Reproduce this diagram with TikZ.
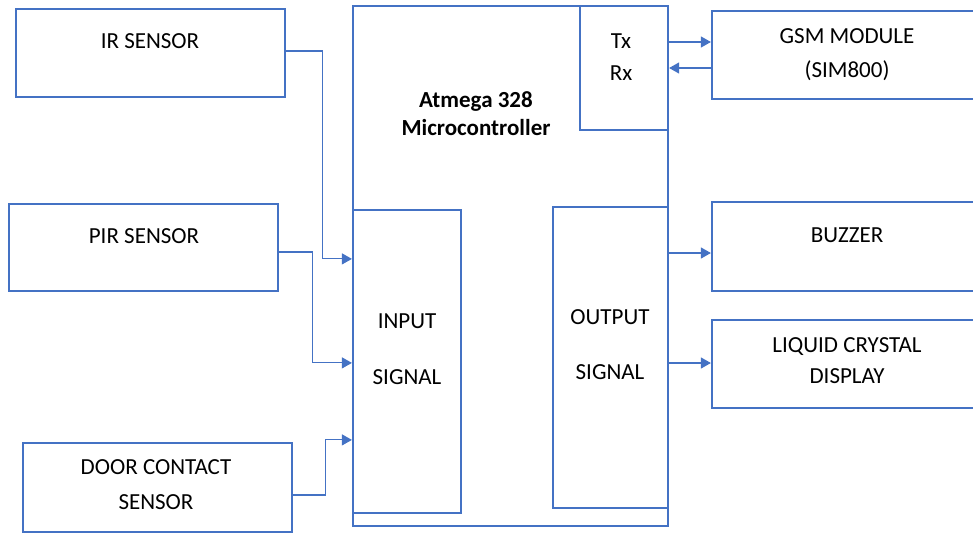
\documentclass[tikz,border=0pt]{standalone}
\usepackage{fontspec}
\setmainfont{Carlito}
\usetikzlibrary{arrows.meta}
\definecolor{boxblue}{RGB}{68,114,196}
\begin{document}
\begin{tikzpicture}[x=1pt, y=-1pt, >={Triangle[length=10pt,width=11pt]},
    box/.style={draw=boxblue, line width=2.2pt, inner sep=0pt, fill=none},
    lbl/.style={font=\fontsize{23}{33}\selectfont, align=center, inner sep=0pt},
    link/.style={->, draw=boxblue, line width=1.1pt}]
    \useasboundingbox (0,0) rectangle (973,533);
    \clip (0,0) rectangle (973,533);
    % sensors
    \node[box, minimum width=269pt, minimum height=88pt] (ir) at (150.5,53) {};
    \node[box, minimum width=269pt, minimum height=87pt] (pir) at (143.5,247.5) {};
    \node[box, minimum width=269pt, minimum height=89pt] (door) at (157.5,487.5) {};
    \node[lbl] (irtxt) at (150,41.5) {IR SENSOR};
    \node[lbl] (pirtxt) at (144,236) {PIR SENSOR};
    \node[lbl] (doortxt) at (156,485) {DOOR CONTACT\\[2pt]SENSOR};
    % controller
    \node[box, minimum width=315pt, minimum height=520pt] (mcu) at (510.5,266) {};
    \node[box, minimum width=88pt, minimum height=124pt] (txrx) at (624,68) {};
    \node[box, minimum width=108pt, minimum height=303pt] (inbox) at (407,361.5) {};
    \node[box, minimum width=115pt, minimum height=301pt] (outbox) at (610.5,357.5) {};
    \node[lbl, font=\bfseries\fontsize{23}{28}\selectfont] (mcutxt) at (476,114) {Atmega 328\\Microcontroller};
    \node[lbl] (txrxtxt) at (621,57.5) {Tx\\[-1pt]Rx};
    \node[lbl] (intxt) at (407,349.5) {INPUT\\[23pt]SIGNAL};
    \node[lbl] (outtxt) at (610,345) {OUTPUT\\[22pt]SIGNAL};
    % outputs
    \node[box, minimum width=273pt, minimum height=88pt] (gsm) at (848.5,55) {};
    \node[box, minimum width=273pt, minimum height=89pt] (buzzer) at (848.5,246.5) {};
    \node[box, minimum width=273pt, minimum height=88pt] (lcd) at (848.5,364) {};
    \node[lbl] (gsmtxt) at (847,55) {GSM MODULE\\[1pt](SIM800)};
    \node[lbl] (buzzertxt) at (847,235.5) {BUZZER};
    \node[lbl] (lcdtxt) at (847,361) {LIQUID CRYSTAL\\[-2pt]DISPLAY};
    % links
    \draw[link] ([yshift=2pt]ir.east) -- ++(36,0) |- ([yshift=-50pt]inbox.north west);
    \draw[link] ([yshift=-4.5pt]pir.east) -- ++(33,0) |- ([yshift=-154pt]inbox.north west);
    \draw[link] ([yshift=-7.5pt]door.east) -- ++(32,0) |- ([yshift=-231pt]inbox.north west);
    \draw[link] ([yshift=26pt]txrx.east) -- ([yshift=13pt]gsm.west);
    \draw[link] ([yshift=-13pt]gsm.west) -- (txrx.east);
    \draw[link] ([yshift=104.5pt]outbox.east) -- ([yshift=-6.5pt]buzzer.west);
    \draw[link] ([yshift=-5.5pt]outbox.east) -- ([yshift=1pt]lcd.west);
\end{tikzpicture}
\end{document}
